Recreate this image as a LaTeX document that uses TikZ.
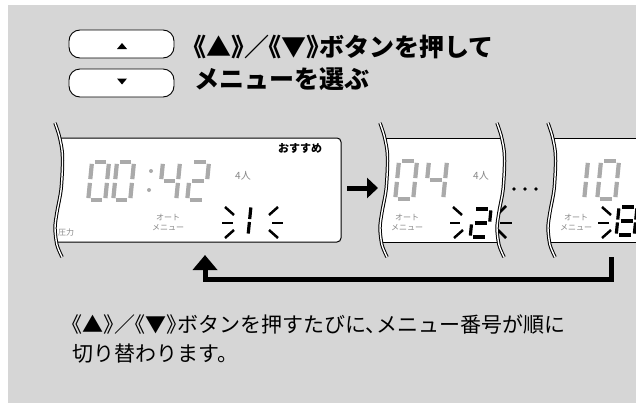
\documentclass[tikz,border=0pt]{standalone}
\usepackage{fontspec}
\setmainfont{Noto Sans CJK JP}[RawFeature={+halt}]
\usetikzlibrary{arrows.meta}

\definecolor{panelgray}{RGB}{214,214,214}
\definecolor{segoff}{RGB}{170,170,170}
\definecolor{labelgray}{RGB}{135,135,135}

% segments of a digit in a box 1 wide and 2 high
\def\dzero{0.17/0/0.83/0, 1/0.1/1/0.9, 1/1.1/1/1.9, 0.17/2/0.83/2, 0/1.1/0/1.9, 0/0.1/0/0.9}
\def\done{1/0.1/1/0.9, 1/1.1/1/1.9}
\def\dtwo{0.17/0/0.83/0, 1/0.1/1/0.9, 0.17/1/0.83/1, 0/1.1/0/1.9, 0.17/2/0.83/2}
\def\dfour{0/0.1/0/0.9, 0.17/1/0.83/1, 1/0.1/1/0.9, 1/1.1/1/1.9}
\def\deight{0.17/0/0.83/0, 1/0.1/1/0.9, 1/1.1/1/1.9, 0.17/2/0.83/2, 0/1.1/0/1.9, 0/0.1/0/0.9, 0.17/1/0.83/1}

\newcommand{\lcd}[5]{%
  \begin{scope}[shift={(#1,#2)},xslant=0.1,xscale=#3,yscale=#4]
    \foreach \ax/\ay/\bx/\by in #5 {\draw (\ax,\ay) -- (\bx,\by);}
  \end{scope}}

\begin{document}
\begin{tikzpicture}[x=1pt,y=-1pt,
    btn/.style={draw,fill=white,rounded corners=11pt,minimum width=105pt,minimum height=28pt,inner sep=0pt,line width=0.9pt},
    lcdbox/.style={draw,fill=white,line width=1pt},
    lcdlabel/.style={text=labelgray,inner sep=0pt,align=center,font=\fontsize{8}{10}\selectfont},
    breakline/.style={double=white,double distance=1.4pt,line width=1pt},
    ray/.style={line width=2.5pt},
    bigarrow/.style={line width=5pt,-{Triangle[length=11pt,width=20pt]}},
    retarrow/.style={line width=5pt,-{Triangle[length=15pt,width=24pt]}}]

  \useasboundingbox (0,0) rectangle (636,407);
  \fill[panelgray] (8,5) rectangle (636,403);

  \node[btn] (upbtn) at (121.5,44) {};
  \node[btn] (downbtn) at (121.5,83) {};
  \fill (117,49) -- (127,49) -- (122,43) -- cycle;
  \fill (117,78.5) -- (127,78.5) -- (122,84.5) -- cycle;

  \node[anchor=north west,inner sep=0pt,align=left,font=\bfseries\fontsize{25}{31.5}\selectfont] (howto) at (194,35)
    {《▲》／《▼》ボタンを押して\\メニューを選ぶ};

  % three displays
  \filldraw[lcdbox,rounded corners=4pt] (50,138) rectangle (341,242);
  \filldraw[lcdbox] (375,138) rectangle (510,242);
  \filldraw[lcdbox] (543,138) rectangle (645,242);

  \begin{scope}[segoff,line width=4.2pt]
    \lcd{92}{162}{17}{19}{\dzero}
    \lcd{117}{162}{17}{19}{\dzero}
    \lcd{163}{162}{17}{19}{\dfour}
    \lcd{191}{162}{18}{19}{\dtwo}
    \lcd{399}{161}{18}{19}{\dzero}
    \lcd{429}{161}{18}{19}{\dfour}
    \lcd{570}{161}{18}{19}{\done}
    \lcd{601}{161}{18}{19}{\dzero}
  \end{scope}
  \fill[segoff] (151,171) circle[radius=2pt];
  \fill[segoff] (149,190) circle[radius=2pt];

  \node[inner sep=0pt,font=\bfseries\fontsize{11}{11}\selectfont] (osusume) at (300,148) {おすすめ};
  \node[inner sep=0pt,text=labelgray,font=\fontsize{10}{10}\selectfont] (ppl1) at (243,176) {4人};
  \node[inner sep=0pt,text=labelgray,font=\fontsize{10}{10}\selectfont] (ppl2) at (481,176) {4人};
  \node[lcdlabel] (auto1) at (168,222) {オート\\メニュー};
  \node[lcdlabel] (auto2) at (407,222) {オート\\メニュー};
  \node[lcdlabel] (auto3) at (576,222) {オート\\メニュー};
  \node[lcdlabel,anchor=west] (pres1) at (58,232) {圧力};

  % cut edges
  \foreach \wx in {55,380,548}
    \fill[panelgray] (\wx-10,118) -- plot[smooth] coordinates {(\wx,123) (\wx+4,135) (\wx+7,150) (\wx+7.5,165) (\wx+6,190) (\wx+2,212) (\wx,228) (\wx+2,245) (\wx+7,257)} -- (\wx-10,262) -- cycle;
  \fill[panelgray] (515,118) -- plot[smooth] coordinates {(497,123) (501,135) (504,150) (504.5,165) (503,190) (499,212) (497,228) (499,245) (504,257)} -- (515,262) -- cycle;

  \begin{scope}[line width=3.2pt]
    \lcd{236}{206}{15}{14.5}{\done}
    \lcd{473}{209}{18}{14}{\dtwo}
    \lcd{619}{207}{18}{14}{\deight}
  \end{scope}
  \foreach \ax/\ay/\bx/\by in {225/207/234/215, 222/223/233/223, 225/238/234/230,
      269/215/278/207, 272/223/283/223, 269/230/278/238,
      453/207/462/215, 450/223/460/223, 454/238/463/230,
      498/214/506/206, 500/223/512/223, 498/230/506/238,
      602/207/611/215, 598/223/609/223, 602/238/611/230}
    \draw[ray] (\ax,\ay) -- (\bx,\by);

  \foreach \wx in {55,380,497,548}
    \draw[breakline] plot[smooth] coordinates {(\wx,123) (\wx+4,135) (\wx+7,150) (\wx+7.5,165) (\wx+6,190) (\wx+2,212) (\wx,228) (\wx+2,245) (\wx+7,257)};

  \foreach \dx in {514,525,536}
    \fill (\dx,189) circle[radius=1.8pt];

  \coordinate (d1out) at (347,188);
  \coordinate (d2in) at (378,188);
  \draw[bigarrow] (d1out) -- (d2in);

  \coordinate (d3out) at (611,257);
  \coordinate (d1back) at (205,255);
  \draw[retarrow] (d3out) -- ++(0,22.5) -| (d1back);

  \node[anchor=north west,inner sep=0pt,align=left,font=\fontsize{21}{29}\selectfont] (note) at (72,314.5)
    {《▲》／《▼》ボタンを押すたびに、メニュー番号が順に\\切り替わります。};
\end{tikzpicture}
\end{document}
